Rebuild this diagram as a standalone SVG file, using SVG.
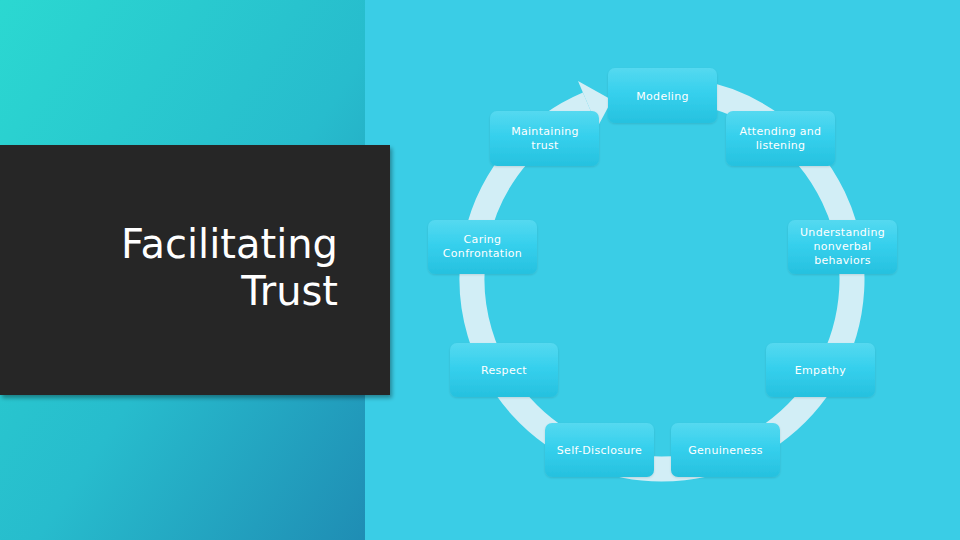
<svg xmlns="http://www.w3.org/2000/svg" width="960" height="540" viewBox="0 0 960 540">
  <defs>
    <linearGradient id="leftBg" x1="0" y1="0" x2="1" y2="1">
      <stop offset="0" stop-color="#2bd8d1"/>
      <stop offset="0.55" stop-color="#27bccd"/>
      <stop offset="1" stop-color="#1f8db4"/>
    </linearGradient>
    <linearGradient id="nodeFill" x1="0" y1="0" x2="0" y2="1">
      <stop offset="0" stop-color="#55d9f0"/>
      <stop offset="0.45" stop-color="#36d0ed"/>
      <stop offset="1" stop-color="#26c1df"/>
    </linearGradient>
    <filter id="shadow" x="-10%" y="-10%" width="130%" height="130%">
      <feGaussianBlur in="SourceAlpha" stdDeviation="2"/>
      <feOffset dx="2" dy="3"/>
      <feComponentTransfer><feFuncA type="linear" slope="0.35"/></feComponentTransfer>
      <feMerge><feMergeNode/><feMergeNode in="SourceGraphic"/></feMerge>
    </filter>
    <filter id="nshadow" x="-10%" y="-10%" width="120%" height="130%">
      <feGaussianBlur in="SourceAlpha" stdDeviation="1.2"/>
      <feOffset dx="0" dy="1"/>
      <feComponentTransfer><feFuncA type="linear" slope="0.12"/></feComponentTransfer>
      <feMerge><feMergeNode/><feMergeNode in="SourceGraphic"/></feMerge>
    </filter>
  </defs>
  <style>
    .node rect { fill: url(#nodeFill); filter: url(#nshadow); }
    .node text { fill: #ffffff; font-family: "DejaVu Sans", "Liberation Sans", sans-serif; font-size: 11px; text-anchor: middle; letter-spacing: 0.3px; }
    .ring { fill: none; stroke: #d2eef6; stroke-width: 25; }
    .head { fill: #d2eef6; }
    .title { fill: #ffffff; font-family: "DejaVu Sans", "Liberation Sans", sans-serif; font-size: 40px; text-anchor: end; }
  </style>

  <rect x="0" y="0" width="960" height="540" fill="#3acde6"/>
  <rect x="0" y="0" width="365" height="540" fill="url(#leftBg)"/>

  <g id="title-box">
    <rect x="0" y="145" width="390" height="250" fill="#262626" filter="url(#shadow)"/>
    <text class="title" x="338" y="258">Facilitating</text>
    <text class="title" x="338" y="305">Trust</text>
  </g>

  <g id="connectors">
    <path class="ring" d="M 695.0 91.9 A 190 190 0 1 1 587.8 104.1"/>
    <polygon class="head" points="578,81 612,100 597.5,127"/>
  </g>

  <g id="modeling" class="node">
    <rect x="608" y="68" width="109" height="55" rx="7"/>
    <text x="662.5" y="100">Modeling</text>
  </g>
  <g id="maintaining-trust" class="node">
    <rect x="490" y="111" width="109" height="55" rx="7"/>
    <text x="545" y="135">Maintaining</text>
    <text x="545" y="149">trust</text>
  </g>
  <g id="attending-listening" class="node">
    <rect x="726" y="111" width="109" height="55" rx="7"/>
    <text x="780.5" y="135">Attending and</text>
    <text x="780.5" y="149">listening</text>
  </g>
  <g id="caring-confrontation" class="node">
    <rect x="428" y="220" width="109" height="54" rx="7"/>
    <text x="482.5" y="243">Caring</text>
    <text x="482.5" y="257">Confrontation</text>
  </g>
  <g id="understanding-nonverbal" class="node">
    <rect x="788" y="220" width="109" height="54" rx="7"/>
    <text x="842.5" y="236">Understanding</text>
    <text x="842.5" y="250">nonverbal</text>
    <text x="842.5" y="264">behaviors</text>
  </g>
  <g id="respect" class="node">
    <rect x="450" y="343" width="108" height="54" rx="7"/>
    <text x="504" y="374">Respect</text>
  </g>
  <g id="empathy" class="node">
    <rect x="766" y="343" width="109" height="54" rx="7"/>
    <text x="820.5" y="374">Empathy</text>
  </g>
  <g id="self-disclosure" class="node">
    <rect x="545" y="423" width="109" height="54" rx="7"/>
    <text x="599.5" y="454">Self-Disclosure</text>
  </g>
  <g id="genuineness" class="node">
    <rect x="671" y="423" width="109" height="54" rx="7"/>
    <text x="725.5" y="454">Genuineness</text>
  </g>
</svg>
